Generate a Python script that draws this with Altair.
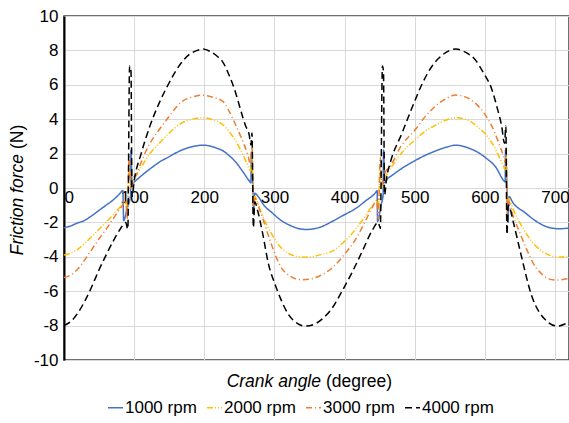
import altair as alt
import pandas as pd

series_names = ["1000 rpm", "2000 rpm", "3000 rpm", "4000 rpm"]
series_colors = ["#4472C4", "#FFC000", "#ED7D31", "#000000"]
series_dashes = [[1, 0], [6, 2, 1, 2, 1, 2], [6, 3, 1, 3], [7, 4]]

x_ticks = [0, 100, 200, 300, 400, 500, 600, 700]
y_ticks = [-10, -8, -6, -4, -2, 0, 2, 4, 6, 8, 10]

# (crank angle, friction force)
rpm1000 = [(0, -2.31), (10, -2.2), (20, -2.02), (27, -1.93), (40, -1.6), (50, -1.3), (60, -1.0), (70, -0.7),
           (79, -0.35), (84, -0.15), (85, -1.9), (90, -1.2), (95, -0.4), (95.5, 2.2), (97, 0.25), (100, 0.35),
           (110, 0.7), (121.6, 1.08), (135.8, 1.5), (150, 1.82), (160, 2.05), (170, 2.24), (180, 2.37),
           (190, 2.46), (198, 2.49), (210, 2.42), (220, 2.28), (226, 2.18), (235, 1.9), (245, 1.5), (255, 0.95),
           (264, 0.42), (266.5, 0.3), (267, 2.05), (269, 0.4), (270.5, -1.3), (272, -0.3), (276, -0.45),
           (285, -1.0), (297, -1.45), (310, -1.9), (321, -2.15), (332, -2.33), (344, -2.41), (355, -2.38),
           (365, -2.28), (382, -1.95), (400, -1.55), (415.6, -1.2), (430, -0.75), (444, -0.28), (446.5, -0.15),
           (447, -1.95), (452, -1.0), (455, -0.4), (455.5, 2.2), (457.5, 0.3), (460.6, 0.49), (470, 0.8),
           (482, 1.15), (500, 1.58), (515, 1.9), (529.5, 2.15), (545, 2.37), (558, 2.49), (575, 2.35), (591, 2.05),
           (603, 1.7), (615, 1.25), (627.6, 0.4), (629, 0.35), (629.5, 2.2), (631.5, 0.2), (633, -2.0),
           (634.5, -0.5), (640, -0.85), (657.5, -1.44), (672, -1.9), (686, -2.22), (705, -2.37), (720, -2.33)]

rpm2000 = [(0, -3.9), (10, -3.78), (20, -3.55), (30, -3.2), (40, -2.8), (50, -2.4), (60, -2.0), (70, -1.55),
           (80, -1.1), (88, -0.75), (90, -1.3), (93, 1.2), (95, 0.0), (99, 0.4), (110, 1.2), (121.6, 1.95),
           (135.8, 2.6), (150, 3.2), (160, 3.55), (169, 3.8), (180, 3.97), (197.5, 4.08), (210, 4.0),
           (226, 3.69), (235, 3.3), (245, 2.72), (255, 1.95), (261.5, 1.37), (266, 1.0), (268, 1.8), (270, -1.0),
           (272, -0.5), (278, -1.1), (285, -1.8), (295, -2.6), (309, -3.45), (320, -3.8), (332, -3.98),
           (344, -4.02), (355, -3.98), (368, -3.85), (382.4, -3.67), (400, -3.1), (415.6, -2.41), (430, -1.6),
           (439, -1.06), (446, -0.75), (448, -1.3), (451, 1.2), (453, 0.0), (458, 0.6), (470, 1.4), (485, 2.2),
           (501, 2.82), (515, 3.3), (529.5, 3.65), (545, 3.95), (558, 4.08), (572, 4.0), (586, 3.69), (598, 3.25),
           (610, 2.63), (620, 1.85), (626.6, 1.27), (629, 1.05), (630.5, 1.8), (632, -1.0), (634, -0.6),
           (640, -1.2), (652.6, -2.22), (665, -3.0), (681, -3.67), (692, -3.9), (705, -4.02), (720, -3.97)]

rpm3000 = [(0, -5.2), (10, -5.05), (20, -4.7), (30, -4.15), (40, -3.55), (50, -2.95), (60, -2.4), (70, -1.8),
           (80, -1.2), (88, -0.8), (90, -1.8), (93, 1.8), (95, 0.0), (98, 0.6), (102.7, 0.75), (110, 1.5),
           (121.6, 2.53), (135.8, 3.4), (150, 4.17), (160, 4.7), (169, 5.05), (180, 5.25), (197.5, 5.4),
           (210, 5.3), (226, 5.05), (235, 4.5), (245, 3.65), (255, 2.7), (261.5, 2.0), (266, 1.4), (268, 2.4),
           (270, -1.5), (272, -0.6), (280.5, -1.44), (290, -2.6), (304, -4.16), (311, -4.7), (320, -5.05),
           (330, -5.28), (340, -5.33), (350, -5.3), (365, -5.1), (382.4, -4.64), (400, -3.85), (415.6, -3.0),
           (430, -1.9), (441.7, -0.96), (446, -0.7), (448, -1.8), (451, 1.8), (453, 0.2), (458, 0.9),
           (465.4, 1.27), (480, 2.4), (501, 3.4), (515, 4.15), (529.5, 4.76), (545, 5.2), (558, 5.4), (572, 5.3),
           (586, 4.95), (598, 4.4), (610, 3.6), (620, 2.6), (626.6, 1.85), (629, 1.5), (630.5, 2.3), (632, -1.5),
           (634, -0.8), (640, -1.6), (648, -2.41), (660, -3.6), (671.6, -4.55), (680, -4.95), (690.6, -5.28),
           (703, -5.35), (717, -5.28), (720, -5.25)]

rpm4000 = [(0, -8.0), (10, -7.75), (20, -7.25), (30, -6.55), (40, -5.7), (50, -4.75), (60, -3.9), (70, -3.1),
           (80, -2.4), (88, -2.0), (91, -2.4), (93.5, 7.1), (95.5, 6.8), (97, -0.5), (100, 0.4), (110, 2.0),
           (121.6, 3.5), (135.8, 4.95), (150, 6.12), (160, 6.85), (169, 7.37), (180, 7.8), (190, 8.0),
           (198, 8.08), (210, 7.9), (220, 7.6), (226, 7.35), (235, 6.6), (245, 5.5), (250, 4.8), (255, 4.1),
           (259, 3.6), (264, 3.1), (266.5, 2.5), (268, 3.2), (270, -2.3), (272, -0.8), (276, -1.3), (283, -2.6),
           (292, -4.5), (300, -5.5), (310, -6.55), (320, -7.35), (332, -7.85), (344, -8.03), (355, -7.95),
           (370, -7.55), (382, -7.0), (395, -6.1), (410.8, -4.9), (425, -3.7), (439, -2.5), (448, -2.0),
           (451, -2.35), (454, 7.1), (455.5, 6.8), (457, -0.4), (460, 0.6), (465.4, 1.5), (482, 3.2),
           (501, 5.15), (510, 6.0), (524.6, 7.08), (540, 7.75), (558.8, 8.08), (572, 7.9), (586, 7.47),
           (598, 6.7), (610, 5.73), (618, 4.6), (624, 3.6), (628, 2.6), (630, 3.6), (631.5, -2.7), (633.5, -1.0),
           (641, -2.05), (650, -3.6), (667, -6.29), (686, -7.65), (703.8, -8.03), (717.6, -7.84), (720, -7.8)]

rows = []
for name, pts in zip(series_names, [rpm1000, rpm2000, rpm3000, rpm4000]):
    for i, (a, f) in enumerate(pts):
        rows.append({"angle": a, "force": f, "series": name, "order": i})
df = pd.DataFrame(rows)

FONT = "Liberation Sans"

xscale = alt.Scale(domain=[0, 720], nice=False, zero=False)
yscale = alt.Scale(domain=[-10, 10], nice=False, zero=False)

legend = alt.Legend(orient="none", legendX=43, legendY=383, direction="horizontal", title=None)

lines = alt.Chart(df).mark_line(strokeWidth=1.5, interpolate="monotone").encode(
    x=alt.X("angle:Q", scale=xscale,
            axis=alt.Axis(values=x_ticks, offset=-172, domain=False, ticks=False, grid=True,
                          gridColor="#d9d9d9", gridWidth=1, labelFontSize=17, labelFont=FONT,
                          labelColor="#000000", labelPadding=1, labelFlush=True, title=None)),
    y=alt.Y("force:Q", scale=yscale,
            axis=alt.Axis(values=y_ticks, domain=True, domainColor="#000000", domainWidth=2, ticks=False,
                          grid=True, gridColor="#d9d9d9", gridWidth=1, labelFontSize=17, labelFont=FONT,
                          labelColor="#000000", labelPadding=6, title=None,
                          labelExpr="'' + datum.value")),
    color=alt.Color("series:N", scale=alt.Scale(domain=series_names, range=series_colors), legend=legend),
    strokeDash=alt.StrokeDash("series:N", scale=alt.Scale(domain=series_names, range=series_dashes),
                              legend=legend),
    order="order:Q",
)

one = pd.DataFrame({"k": [0]})
xt1 = alt.Chart(one).mark_text(text="Crank angle", font=FONT, fontSize=17.5, fontStyle="italic",
                               align="right", baseline="middle", color="#000000").encode(
    x=alt.value(257), y=alt.value(366))
xt2 = alt.Chart(one).mark_text(text="(degree)", font=FONT, fontSize=17.5,
                               align="left", baseline="middle", color="#000000").encode(
    x=alt.value(262), y=alt.value(366))
yt1 = alt.Chart(one).mark_text(text="Friction force", font=FONT, fontSize=17.5, fontStyle="italic",
                               align="right", baseline="middle", angle=270, color="#000000").encode(
    x=alt.value(-46), y=alt.value(138))
yt2 = alt.Chart(one).mark_text(text="(N)", font=FONT, fontSize=17.5,
                               align="left", baseline="middle", angle=270, color="#000000").encode(
    x=alt.value(-46), y=alt.value(133))

chart = alt.layer(lines, xt1, xt2, yt1, yt2).properties(
    width=505, height=344,
    autosize=alt.AutoSizeParams(type="none"),
    padding={"left": 64, "top": 16, "right": 0, "bottom": 63},
).configure_view(
    stroke="#404040", strokeWidth=1.5
).configure_legend(
    labelFont=FONT, labelFontSize=17, labelColor="#000000", symbolType="stroke", symbolSize=225,
    symbolStrokeWidth=1.5, columnPadding=7, labelOffset=1, padding=0
)

chart.save("out.html", embed_options={"renderer": "svg", "actions": False})
